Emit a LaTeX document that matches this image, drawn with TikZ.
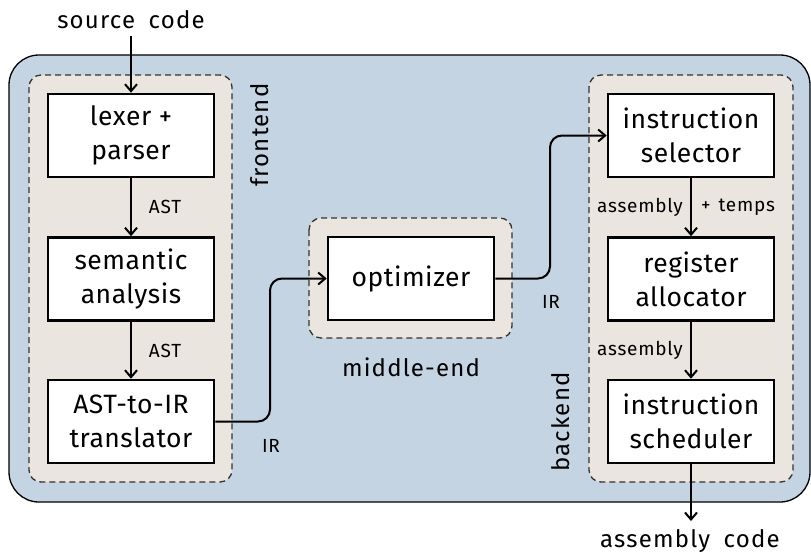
\documentclass[tikz,border=0pt]{standalone}
\usepackage{fontspec}
\setmainfont{Fira Sans}
\newfontfamily\boxfont{Fira Sans}[LetterSpace=2]
\newfontfamily\edgefont{Fira Sans}[LetterSpace=4, WordSpace=1.4]
\newfontfamily\stagefont{Fira Sans}[LetterSpace=5, WordSpace=1.8]
\usetikzlibrary{arrows.meta}
\definecolor{panelblue}{HTML}{C5D4E2}
\definecolor{stagefill}{HTML}{EAE5DF}
\definecolor{dashgray}{HTML}{333333}
\tikzset{
  stagebox/.style={draw=dashgray, fill=stagefill, line width=1.3pt,
    dash pattern=on 6pt off 4pt, rounded corners=12pt},
  passbox/.style={draw=black, fill=white, line width=2.6pt,
    minimum width=166pt, minimum height=83pt, inner sep=0pt,
    align=center, font=\boxfont\fontsize{26.5}{34}\selectfont},
  flow/.style={line width=2pt, -{Straight Barb[length=7pt,width=12pt,line width=2pt]}},
  edgelabel/.style={font=\edgefont\fontsize{19}{22}\selectfont, inner sep=0pt},
  outerlabel/.style={font=\stagefont\fontsize{24}{28}\selectfont, inner sep=0pt},
}
\begin{document}
\begin{tikzpicture}[x=1pt, y=-1pt]
\useasboundingbox (0,0) rectangle (811,558);

% compiler panel
\draw[fill=panelblue, line width=1.3pt, rounded corners=30pt] (9,55) rectangle (810,502);

% stage groups
\draw[stagebox] (29,75) rectangle (232,482);
\draw[stagebox] (309,218) rectangle (512,338);
\draw[stagebox] (589,75) rectangle (793,482);

% passes
\node[passbox] (lex)   at (131,135.5) {lexer +\\parser};
\node[passbox] (sem)   at (131,279)   {semantic\\analysis};
\node[passbox] (trans) at (131,421.5) {AST-to-IR\\translator};
\node[passbox] (opt)   at (411,278.5) {optimizer};
\node[passbox] (isel)  at (691,135.5) {instruction\\selector};
\node[passbox] (ralloc) at (691,279)  {register\\allocator};
\node[passbox] (isched) at (691,421.5) {instruction\\scheduler};

% stage names
\node[outerlabel, rotate=90] (fe) at (260,135) {frontend};
\node[outerlabel] (me) at (411,367) {middle-end};
\node[outerlabel, rotate=90] (be) at (561,422) {backend};

% input and output
\node[outerlabel] (src) at (131,20) {source code};
\node[outerlabel] (asm) at (690,541) {assembly code};
\coordinate (srcend) at (131,36);
\coordinate (asmend) at (691,521);

% connectors
\draw[flow] (srcend) -- (lex.north);
\draw[flow] (lex) -- (sem);
\draw[flow] (sem) -- (trans);
\draw[flow, rounded corners=12pt] (trans.east) -- (270,421.5) -- (270,278.5) -- (opt.west);
\draw[flow, rounded corners=12pt] (opt.east) -- (550,278.5) -- (550,135.5) -- (isel.west);
\draw[flow] (isel) -- (ralloc);
\draw[flow] (ralloc) -- (isched);
\draw[flow] (isched.south) -- (asmend);

% connector labels
\node[edgelabel] (l1) at (165,207) {AST};
\node[edgelabel] (l2) at (165,351) {AST};
\node[edgelabel] (l3) at (271,446) {IR};
\node[edgelabel] (l4) at (551,302) {IR};
\node[edgelabel] (l5) at (640,207) {assembly};
\node[edgelabel] (l6) at (738,207) {+ temps};
\node[edgelabel] (l7) at (640,350) {assembly};
\end{tikzpicture}
\end{document}
